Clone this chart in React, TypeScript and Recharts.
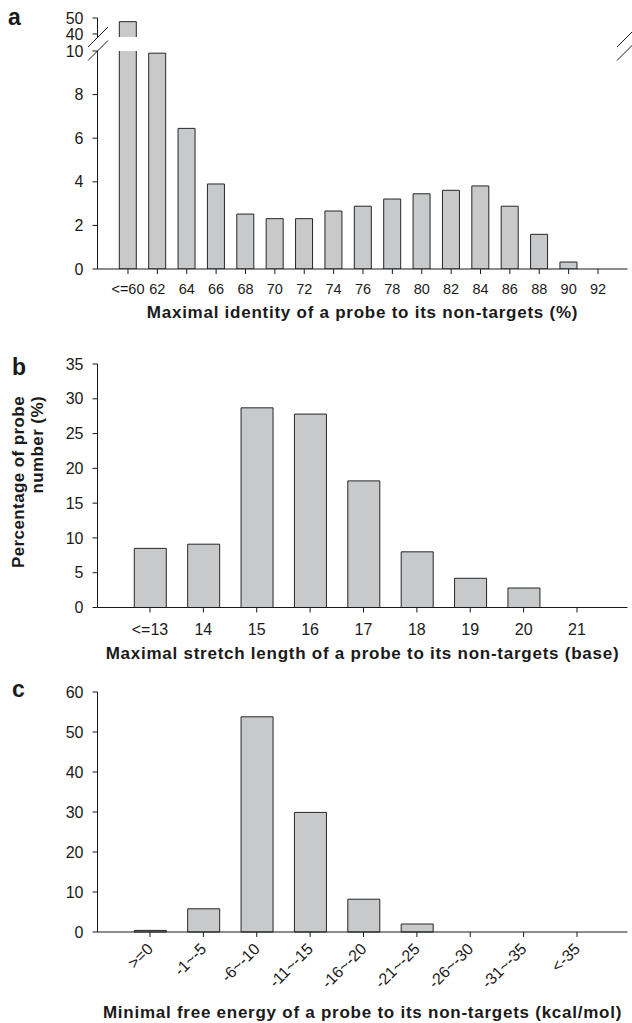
import { Bar, BarChart, Label, XAxis, YAxis } from 'recharts';

// panel a: maximal identity (%)
const identityLabels = ['<=60', '62', '64', '66', '68', '70', '72', '74', '76', '78', '80', '82', '84', '86', '88', '90', '92'];
const identityValues = [47.7, 9.9, 6.45, 3.9, 2.52, 2.31, 2.31, 2.66, 2.88, 3.21, 3.45, 3.61, 3.81, 2.88, 1.59, 0.32, 0];
const identityLowTicks = [0, 2, 4, 6, 8, 10];
const identityHighTicks = [40, 50];

// panel b: maximal stretch length (base)
const stretchLabels = ['<=13', '14', '15', '16', '17', '18', '19', '20', '21'];
const stretchValues = [8.5, 9.1, 28.7, 27.8, 18.2, 8.0, 4.2, 2.8, 0];
const stretchTicks = [0, 5, 10, 15, 20, 25, 30, 35];

// panel c: minimal free energy (kcal/mol)
const energyLabels = ['>=0', '-1~-5', '-6~-10', '-11~-15', '-16~-20', '-21~-25', '-26~-30', '-31~-35', '<-35'];
const energyValues = [0.4, 5.8, 53.8, 29.9, 8.2, 2.0, 0, 0, 0];
const energyTicks = [0, 10, 20, 30, 40, 50, 60];

const INK = '#1a1a1a';
const BAR_FILL = '#c8c9cb';
const BAR_STROKE = '#262626';
const FONT = '"Liberation Sans", Arial, Helvetica, sans-serif';

const identityData = identityLabels.map((name, i) => ({ name, value: identityValues[i] }));
const stretchData = stretchLabels.map((name, i) => ({ name, value: stretchValues[i] }));
const energyData = energyLabels.map((name, i) => ({ name, value: energyValues[i] }));

// always draw bars from zero so the broken-axis halves clip cleanly
const fromZero = (d: { value: number }) => [0, d.value];

const axisLine = { stroke: INK, strokeWidth: 1 };
const yTick = { fontSize: 16, fill: INK };
const titleProps = { fontSize: 17, fontWeight: 'bold', fill: INK, letterSpacing: 0.75 };

const padA = { left: 15.8, right: 14.8 };
const padBC = { left: 25.8, right: 23.8 };

const AngledTick = (props: any) => {
  const { x, y, payload } = props;
  const ax = x + 4;
  const ay = y + 11;
  return (
    <text x={ax} y={ay} transform={`rotate(-45 ${ax} ${ay})`} textAnchor="end" fontSize={16} fill={INK}>
      {payload.value}
    </text>
  );
};

const App = () => {
  return (
    <div style={{ position: 'absolute', left: 0, top: 0, width: 632, height: 1023, background: '#fff', fontFamily: FONT }}>
      {/* panel a, upper part of the broken axis (40-50) */}
      <div style={{ position: 'absolute', left: 0, top: 0 }}>
        <BarChart width={632} height={50} data={identityData} margin={{ top: 18, right: 4.5, bottom: 13, left: 47.5 }} barSize={17}>
          <XAxis dataKey="name" hide padding={padA} />
          <XAxis xAxisId="top" dataKey="name" orientation="top" height={0} tick={false} tickLine={false} axisLine={axisLine} padding={padA} />
          <YAxis domain={[38.1, 50]} ticks={identityHighTicks} allowDataOverflow width={50} tickSize={5} tickMargin={9} tick={yTick} axisLine={axisLine} tickLine={axisLine} interval={0} />
          <YAxis yAxisId="right" orientation="right" width={0} domain={[0, 1]} tick={false} tickLine={false} axisLine={axisLine} />
          <Bar dataKey={fromZero} fill={BAR_FILL} stroke={BAR_STROKE} strokeWidth={1} isAnimationActive={false} />
        </BarChart>
      </div>

      {/* panel a, lower part (0-10) */}
      <div style={{ position: 'absolute', left: 0, top: 0 }}>
        <BarChart width={632} height={330} data={identityData} margin={{ top: 51, right: 4.5, bottom: 12, left: 47.5 }} barSize={17}>
          <XAxis dataKey="name" padding={padA} height={49} tickSize={5} tickMargin={10} interval={0} tick={{ fontSize: 14.5, fill: INK }} axisLine={axisLine} tickLine={axisLine}>
            <Label value="Maximal identity of a probe to its non-targets (%)" position="insideBottom" offset={0} {...titleProps} />
          </XAxis>
          <YAxis domain={[0, 10]} ticks={identityLowTicks} allowDataOverflow width={50} tickSize={5} tickMargin={9} tick={yTick} axisLine={axisLine} tickLine={axisLine} interval={0} />
          <YAxis yAxisId="right" orientation="right" width={0} domain={[0, 1]} tick={false} tickLine={false} axisLine={axisLine} />
          <Bar dataKey={fromZero} fill={BAR_FILL} stroke={BAR_STROKE} strokeWidth={1} isAnimationActive={false} />
        </BarChart>
      </div>

      {/* panel b */}
      <div style={{ position: 'absolute', left: 0, top: 330 }}>
        <BarChart width={632} height={340} data={stretchData} margin={{ top: 34, right: 4.5, bottom: 11.5, left: 47.5 }} barSize={32}>
          <XAxis dataKey="name" padding={padBC} height={51} tickSize={5} tickMargin={11} interval={0} tick={{ fontSize: 16, fill: INK }} axisLine={axisLine} tickLine={axisLine}>
            <Label value="Maximal stretch length of a probe to its non-targets (base)" position="insideBottom" offset={0} {...titleProps} />
          </XAxis>
          <XAxis xAxisId="top" dataKey="name" orientation="top" height={0} tick={false} tickLine={false} axisLine={axisLine} padding={padBC} />
          <YAxis domain={[0, 35]} ticks={stretchTicks} width={50} tickSize={5} tickMargin={9} tick={yTick} axisLine={axisLine} tickLine={axisLine} interval={0} />
          <YAxis yAxisId="right" orientation="right" width={0} domain={[0, 1]} tick={false} tickLine={false} axisLine={axisLine} />
          <Bar dataKey="value" fill={BAR_FILL} stroke={BAR_STROKE} strokeWidth={1} isAnimationActive={false} />
        </BarChart>
      </div>

      {/* panel c */}
      <div style={{ position: 'absolute', left: 0, top: 670 }}>
        <BarChart width={632} height={353} data={energyData} margin={{ top: 22, right: 4.5, bottom: 5, left: 47.5 }} barSize={32}>
          <XAxis dataKey="name" padding={padBC} height={86} tickSize={5} tickMargin={2} interval={0} tick={<AngledTick />} axisLine={axisLine} tickLine={axisLine}>
            <Label value="Minimal free energy of a probe to its non-targets (kcal/mol)" position="insideBottom" offset={0} {...titleProps} />
          </XAxis>
          <XAxis xAxisId="top" dataKey="name" orientation="top" height={0} tick={false} tickLine={false} axisLine={axisLine} padding={padBC} />
          <YAxis domain={[0, 60]} ticks={energyTicks} width={50} tickSize={5} tickMargin={9} tick={yTick} axisLine={axisLine} tickLine={axisLine} interval={0} />
          <YAxis yAxisId="right" orientation="right" width={0} domain={[0, 1]} tick={false} tickLine={false} axisLine={axisLine} />
          <Bar dataKey="value" fill={BAR_FILL} stroke={BAR_STROKE} strokeWidth={1} isAnimationActive={false} />
        </BarChart>
      </div>

      {/* panel letters, shared y label, axis-break marks */}
      <svg width={632} height={1023} style={{ position: 'absolute', left: 0, top: 0, pointerEvents: 'none' }}>
        <g fontFamily={FONT} fontWeight="bold" fill={INK}>
          <text x={8} y={25} fontSize={23}>a</text>
          <text x={12} y={375} fontSize={23}>b</text>
          <text x={12} y={697} fontSize={23}>c</text>
          <text transform="translate(24,396) rotate(-90)" textAnchor="end" fontSize={17} letterSpacing={0.4}>Percentage of probe</text>
          <text transform="translate(43,396) rotate(-90)" textAnchor="end" fontSize={17} letterSpacing={0.4}>number (%)</text>
        </g>
        <g stroke={INK} strokeWidth={1}>
          <line x1={88} y1={47} x2={108} y2={27} />
          <line x1={88} y1={60.5} x2={108} y2={40.5} />
          <line x1={617} y1={47} x2={633} y2={31} />
          <line x1={617} y1={60.5} x2={633} y2={44.5} />
        </g>
      </svg>
    </div>
  );
};

export default App;
